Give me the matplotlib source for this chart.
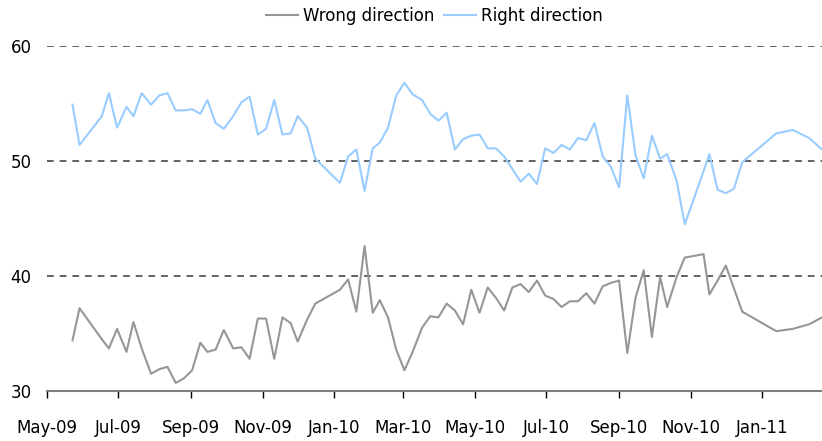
import matplotlib
matplotlib.use('Agg')
import matplotlib.pyplot as plt
import matplotlib.dates as mdates
import pandas as pd

# weekly survey dates
dates = [
    '2009-05-23', '2009-05-29', '2009-06-17', '2009-06-23', '2009-06-30', '2009-07-08',
    '2009-07-14', '2009-07-21', '2009-07-29', '2009-08-05', '2009-08-12', '2009-08-19',
    '2009-08-26', '2009-09-02', '2009-09-09', '2009-09-15', '2009-09-22', '2009-09-29',
    '2009-10-07', '2009-10-14', '2009-10-21', '2009-10-28', '2009-11-04', '2009-11-11',
    '2009-11-18', '2009-11-25', '2009-12-01', '2009-12-09', '2009-12-16', '2010-01-06',
    '2010-01-13', '2010-01-20', '2010-01-27', '2010-02-03', '2010-02-09', '2010-02-16',
    '2010-02-23', '2010-03-02', '2010-03-09', '2010-03-17', '2010-03-24', '2010-03-31',
    '2010-04-07', '2010-04-14', '2010-04-21', '2010-04-28', '2010-05-05', '2010-05-12',
    '2010-05-19', '2010-05-26', '2010-06-02', '2010-06-09', '2010-06-16', '2010-06-23',
    '2010-06-30', '2010-07-07', '2010-07-14', '2010-07-21', '2010-07-28', '2010-08-04',
    '2010-08-11', '2010-08-18', '2010-08-25', '2010-09-01', '2010-09-08', '2010-09-15',
    '2010-09-22', '2010-09-29', '2010-10-06', '2010-10-12', '2010-10-20', '2010-10-27',
    '2010-11-12', '2010-11-17', '2010-11-24', '2010-12-01', '2010-12-08', '2010-12-15',
    '2011-01-13', '2011-01-27', '2011-02-10', '2011-02-21',
]

wrong_direction = [
    34.4, 37.2, 34.5, 33.7, 35.4, 33.4,
    36.0, 33.7, 31.5, 31.9, 32.1, 30.7,
    31.1, 31.8, 34.2, 33.4, 33.6, 35.3,
    33.7, 33.8, 32.8, 36.3, 36.3, 32.8,
    36.4, 35.9, 34.3, 36.2, 37.6, 38.8,
    39.7, 36.9, 42.6, 36.8, 37.9, 36.4,
    33.6, 31.8, 33.4, 35.5, 36.5, 36.4,
    37.6, 37.0, 35.8, 38.8, 36.8, 39.0,
    38.1, 37.0, 39.0, 39.3, 38.6, 39.6,
    38.3, 38.0, 37.3, 37.8, 37.8, 38.5,
    37.6, 39.1, 39.4, 39.6, 33.3, 38.1,
    40.5, 34.7, 39.9, 37.3, 39.9, 41.6,
    41.9, 38.4, 39.6, 40.9, 38.9, 36.9,
    35.2, 35.4, 35.8, 36.4,
]

right_direction = [
    54.9, 51.4, 53.9, 55.9, 52.9, 54.7,
    53.9, 55.9, 54.9, 55.7, 55.9, 54.4,
    54.4, 54.5, 54.1, 55.3, 53.3, 52.8,
    53.9, 55.1, 55.6, 52.3, 52.8, 55.3,
    52.3, 52.4, 53.9, 52.9, 50.2, 48.1,
    50.4, 51.0, 47.4, 51.1, 51.6, 52.9,
    55.7, 56.8, 55.8, 55.3, 54.1, 53.5,
    54.2, 51.0, 51.9, 52.2, 52.3, 51.1,
    51.1, 50.4, 49.3, 48.2, 48.9, 48.0,
    51.1, 50.7, 51.4, 51.0, 52.0, 51.8,
    53.3, 50.4, 49.5, 47.7, 55.7, 50.5,
    48.5, 52.2, 50.2, 50.6, 48.3, 44.5,
    49.1, 50.6, 47.5, 47.2, 47.6, 49.9,
    52.4, 52.7, 52.0, 51.0,
]

x = pd.to_datetime(dates)

plt.rcParams['font.family'] = ['DejaVu Sans']

fig = plt.figure(figsize=(8.22, 4.41), dpi=100)
ax = fig.add_axes([0.0568, 0.1134, 0.9432, 0.7823])

ax.plot(x, wrong_direction, color='#969696', lw=1.5, label='Wrong direction')
ax.plot(x, right_direction, color='#99ccff', lw=1.5, label='Right direction')

ax.set_ylim(30, 60)
ax.set_yticks([30, 40, 50, 60])
ax.set_xlim(pd.Timestamp('2009-05-01'), pd.Timestamp('2011-02-21'))

for v in [40, 50, 60]:
    ax.axhline(v, color='#383838', lw=1.1, linestyle=(0, (4.4, 3.9)), zorder=0)

ax.xaxis.set_major_locator(mdates.MonthLocator(bymonth=[1, 3, 5, 7, 9, 11]))
ax.xaxis.set_major_formatter(mdates.DateFormatter('%b-%y'))

for side in ['top', 'right', 'left']:
    ax.spines[side].set_visible(False)
ax.spines['bottom'].set_color('#808080')
ax.spines['bottom'].set_linewidth(1.5)

ax.tick_params(axis='x', direction='out', length=5, width=1, color='black',
               labelsize=12, pad=15)
ax.tick_params(axis='y', length=0, labelsize=12, pad=11)

ax.legend(loc='center', bbox_to_anchor=(0.5, 1.087), ncol=2, frameon=False,
          fontsize=12, handlelength=1.9, handletextpad=0.3, columnspacing=0.6)

fig.savefig('out.png', dpi=100)
